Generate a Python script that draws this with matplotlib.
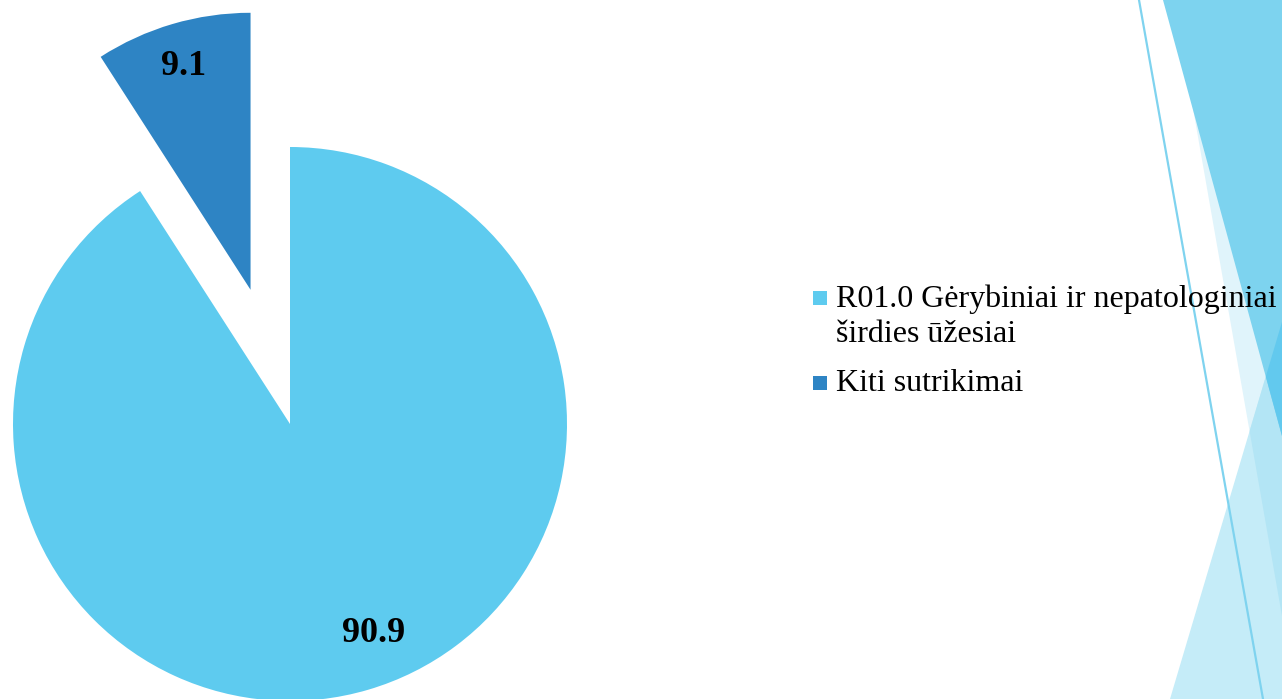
import matplotlib.pyplot as plt
from matplotlib.patches import Polygon, Rectangle

# Data
labels = ["R01.0 Gėrybiniai ir nepatologiniai\nširdies ūžesiai", "Kiti sutrikimai"]
values = [90.9, 9.1]
colors = ["#5ECBEF", "#2E84C4"]

W, H = 1282, 699

fig = plt.figure(figsize=(W / 100, H / 100), dpi=100)
ax = fig.add_axes([0, 0, 1, 1])


# pixel coords (y measured from top) -> axes data coords
def P(x, y):
    return (x, H - y)


# Background decoration on the right
shape_b = [P(1174, 0), P(1282, 0), P(1282, 616)]
shape_c = [P(1170, 699), P(1282, 322), P(1282, 699)]
shape_a = [P(1163, 0), P(1282, 0), P(1282, 436)]

pb = Polygon(shape_b, closed=True, color="#E0F4FB", lw=0, zorder=0)
ax.add_patch(pb)
pc = Polygon(shape_c, closed=True, color="#C5ECF8", lw=0, zorder=0.1)
ax.add_patch(pc)
pcb = Polygon(shape_c, closed=True, color="#B3E5F5", lw=0, zorder=0.2)
ax.add_patch(pcb)
pcb.set_clip_path(pb)
pa = Polygon(shape_a, closed=True, color="#7DD3EF", lw=0, zorder=0.3)
ax.add_patch(pa)
pca = Polygon(shape_c, closed=True, color="#62C9EE", lw=0, zorder=0.4)
ax.add_patch(pca)
pca.set_clip_path(pa)
(x0, y0), (x1, y1) = P(1139, 0), P(1263, 699)
ax.plot([x0, x1], [y0, y1], color="#7FD3EF", lw=1.6, zorder=0.5)

# Pie (explode in matplotlib is an absolute offset, so scale by radius)
radius = 277
wedges, _ = ax.pie(values, colors=colors, startangle=90, counterclock=False,
                   explode=[0, 0.505 * radius], radius=radius, center=P(290, 424),
                   wedgeprops=dict(linewidth=0))

lab_font = dict(family="Liberation Serif", size=26, weight="bold")
ax.text(*P(374, 642), f"{values[0]}", ha="center", va="baseline", **lab_font)
ax.text(*P(184, 75), f"{values[1]}", ha="center", va="baseline", **lab_font)

# Legend (drawn by hand to match the slide layout)
leg_font = dict(family="Liberation Serif", size=23, color="#000000")
ax.add_patch(Rectangle(P(813, 305), 14, 14, color=colors[0], lw=0))
ax.add_patch(Rectangle(P(813, 390), 14, 14, color=colors[1], lw=0))
first, second = labels[0].split("\n")
ax.text(*P(836, 307), first, va="baseline", ha="left", **leg_font)
ax.text(*P(836, 342), second, va="baseline", ha="left", **leg_font)
ax.text(*P(836, 391), labels[1], va="baseline", ha="left", **leg_font)

ax.set_xlim(0, W)
ax.set_ylim(0, H)
ax.set_aspect("equal")
ax.axis("off")

fig.savefig("out.png", dpi=100)
